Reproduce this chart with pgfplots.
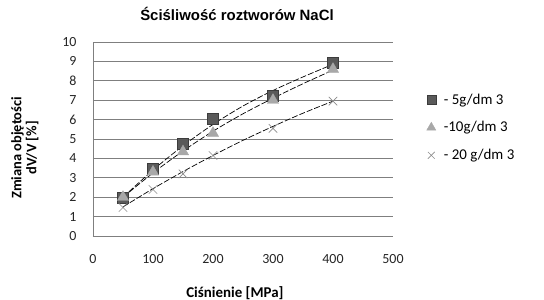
\documentclass[border=0pt]{standalone}
\usepackage{pgfplots}
\pgfplotsset{compat=1.18}
\usepackage{fontspec}
\setmainfont{Carlito}
\newfontfamily\arialfont{Liberation Sans}
\definecolor{sqc}{HTML}{5A5A5A}
\definecolor{sqd}{HTML}{3C3C3C}
\definecolor{trc}{HTML}{A8A8A8}
\definecolor{crc}{HTML}{8C8C8C}
\definecolor{gridc}{HTML}{7F7F7F}
\begin{document}
\begin{tikzpicture}
\path[use as bounding box] (-93bp,-64bp) rectangle (451bp,236bp);
\begin{axis}[
  at={(0,0)}, anchor=south west,
  scale only axis, width=300bp, height=194bp,
  xmin=0, xmax=500, ymin=0, ymax=10,
  xtick={0,100,...,500}, ytick={0,1,...,10},
  axis lines=left,
  axis line style={-, gridc, line width=0.8pt},
  ymajorgrids, grid style={gridc, line width=0.8pt},
  major tick length=0pt,
  /pgf/number format/assume math mode=true,
  tick label style={font=\fontsize{14}{16}\selectfont, text=black!85},
  xticklabel style={yshift=-15bp},
  yticklabel style={xshift=-13bp},
  title={\arialfont\bfseries Ściśliwość roztworów NaCl},
  title style={at={(axis description cs:0.48,1.113)}, anchor=center, font=\fontsize{15}{17}\selectfont},
  xlabel={\bfseries Ciśnienie [MPa]},
  xlabel style={at={(axis description cs:0.473,0)}, anchor=center, yshift=-57bp, font=\fontsize{15}{17}\selectfont},
  ylabel={\bfseries Zmiana objętości\\ \bfseries dV/V [\%]},
  ylabel style={at={(axis description cs:-0.227,0.454)}, anchor=center, align=center, font=\fontsize{14.5}{15}\selectfont},
  legend style={at={(axis description cs:1.112,0.745)}, anchor=north west, draw=none, fill=none,
    font=\fontsize{15}{17}\selectfont, row sep=12bp, inner sep=0pt},
  legend cell align=left,
  legend image post style={scale=0.8},
]
\addplot[only marks, mark=square*, mark size=5.5bp, mark options={fill=sqc, draw=sqd}]
  coordinates {(50,2.0) (100,3.48) (150,4.77) (200,6.06) (300,7.25) (400,8.95)};
\addlegendentry{\hspace{6bp}- 5g/dm 3}
\addplot[only marks, mark=triangle*, mark size=6.5bp, mark options={fill=trc, draw=trc}]
  coordinates {(50,2.0) (100,3.3) (150,4.35) (200,5.3) (300,7.0) (400,8.6)};
\addlegendentry{\hspace{6bp}-10g/dm 3}
\addplot[only marks, mark=x, mark size=6bp, mark options={draw=crc, line width=0.6pt}]
  coordinates {(50,1.47) (100,2.4) (150,3.2) (200,4.15) (300,5.55) (400,6.95)};
\addlegendentry{\hspace{6bp}- 20 g/dm 3}
\addplot[forget plot, smooth, black, line width=0.7pt, dash pattern=on 6pt off 2pt]
  coordinates {(50,2.0) (100,3.4) (150,4.65) (200,5.75) (250,6.7) (300,7.5) (350,8.2) (400,8.85)};
\addplot[forget plot, smooth, black, line width=0.7pt, dash pattern=on 6pt off 2pt]
  coordinates {(50,2.0) (100,3.25) (150,4.38) (200,5.4) (250,6.3) (300,7.1) (350,7.85) (400,8.55)};
\addplot[forget plot, smooth, black, line width=0.7pt, dash pattern=on 6pt off 2pt]
  coordinates {(50,1.5) (100,2.44) (150,3.32) (200,4.15) (250,4.93) (300,5.65) (350,6.33) (400,6.95)};
\end{axis}
\end{tikzpicture}
\end{document}
